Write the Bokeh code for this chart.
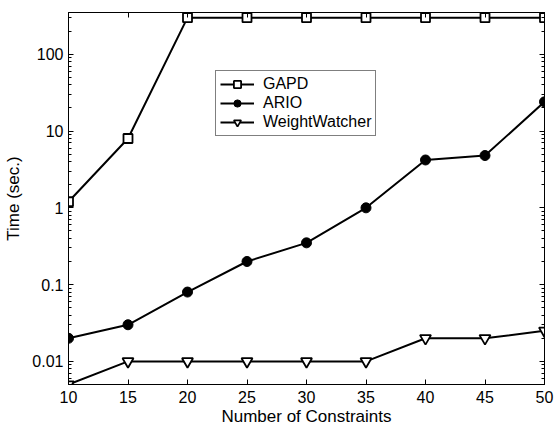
from bokeh.plotting import figure
from bokeh.models import (Range1d, FixedTicker, LinearAxis, LogAxis, Legend, LegendItem,
                          CustomJSTickFormatter)
from bokeh.embed import file_html
from bokeh.resources import INLINE

constraints = [10, 15, 20, 25, 30, 35, 40, 45, 50]
gapd = [1.2, 8, 300, 300, 300, 300, 300, 300, 300]
ario = [0.02, 0.03, 0.08, 0.2, 0.35, 1.0, 4.2, 4.8, 24]
weightwatcher = [0.005, 0.01, 0.01, 0.01, 0.01, 0.01, 0.02, 0.02, 0.025]

x_ticks = [10, 15, 20, 25, 30, 35, 40, 45, 50]
y_ticks = [0.01, 0.1, 1, 10, 100]

FONT = "Liberation Sans"

p = figure(width=554, height=428, y_axis_type="log",
           x_range=Range1d(10, 50), y_range=Range1d(0.005, 350),
           output_backend="svg", toolbar_location=None,
           min_border_left=68, min_border_right=10, min_border_top=12, min_border_bottom=41)
p.grid.visible = False
p.outline_line_color = "black"
p.outline_line_width = 1
p.background_fill_color = "white"
p.border_fill_color = "white"

minor = [m * 10.0 ** k for k in range(-3, 3) for m in range(2, 10)]

def style_axis(ax, labels=True):
    ax.axis_line_color = "black"
    ax.major_tick_line_color = "black"
    ax.minor_tick_line_color = "black"
    ax.major_tick_in = 5
    ax.major_tick_out = 0
    ax.minor_tick_in = 3
    ax.minor_tick_out = 0
    ax.major_label_text_font = FONT
    ax.major_label_text_font_size = "16px"
    ax.major_label_text_color = "black"
    ax.axis_label_text_font = FONT
    ax.axis_label_text_font_size = "17px"
    ax.axis_label_text_font_style = "normal"
    ax.axis_label_text_color = "black"
    if not labels:
        ax.major_label_text_font_size = "0px"
        ax.major_label_standoff = 0

xax = p.xaxis[0]
xax.ticker = FixedTicker(ticks=x_ticks)
style_axis(xax)
xax.axis_label = "Number of Constraints"
xax.major_label_standoff = 6
xax.axis_label_standoff = 1

yax = p.yaxis[0]
yax.ticker = FixedTicker(ticks=y_ticks, minor_ticks=minor)
yax.formatter = CustomJSTickFormatter(code="return String(tick)")
style_axis(yax)
yax.axis_label = "Time (sec.)"
yax.major_label_standoff = 5
yax.axis_label_standoff = 6

top = LinearAxis(ticker=FixedTicker(ticks=x_ticks),
                 formatter=CustomJSTickFormatter(code="return ''"))
style_axis(top, labels=False)
p.add_layout(top, "above")

right = LogAxis(ticker=FixedTicker(ticks=y_ticks, minor_ticks=minor),
                formatter=CustomJSTickFormatter(code="return ''"))
style_axis(right, labels=False)
p.add_layout(right, "right")

lw = 2
r1l = p.line(constraints, gapd, line_color="black", line_width=lw)
r1m = p.scatter(constraints, gapd, marker="square", size=9, fill_color="white",
                line_color="black", line_width=1.8)
r2l = p.line(constraints, ario, line_color="black", line_width=lw)
r2m = p.scatter(constraints, ario, marker="circle", size=10, fill_color="black",
                line_color="black", line_width=1)
r3l = p.line(constraints, weightwatcher, line_color="black", line_width=lw)
r3m = p.scatter(constraints, weightwatcher, marker="inverted_triangle", size=11,
                fill_color="white", line_color="black", line_width=1.8)

legend = Legend(items=[
    LegendItem(label="GAPD", renderers=[r1l, r1m]),
    LegendItem(label="ARIO", renderers=[r2l, r2m]),
    LegendItem(label="WeightWatcher", renderers=[r3l, r3m]),
], location=(147, 248))
legend.label_text_font = FONT
legend.label_text_font_size = "16px"
legend.label_text_color = "black"
legend.border_line_color = "black"
legend.border_line_width = 1
legend.background_fill_color = "white"
legend.background_fill_alpha = 1
legend.padding = 4
legend.spacing = 1
legend.margin = 0
legend.label_height = 18
legend.glyph_height = 18
legend.glyph_width = 34
legend.label_standoff = 9
p.add_layout(legend, "center")

open("out.html", "w").write(file_html(p, INLINE))
